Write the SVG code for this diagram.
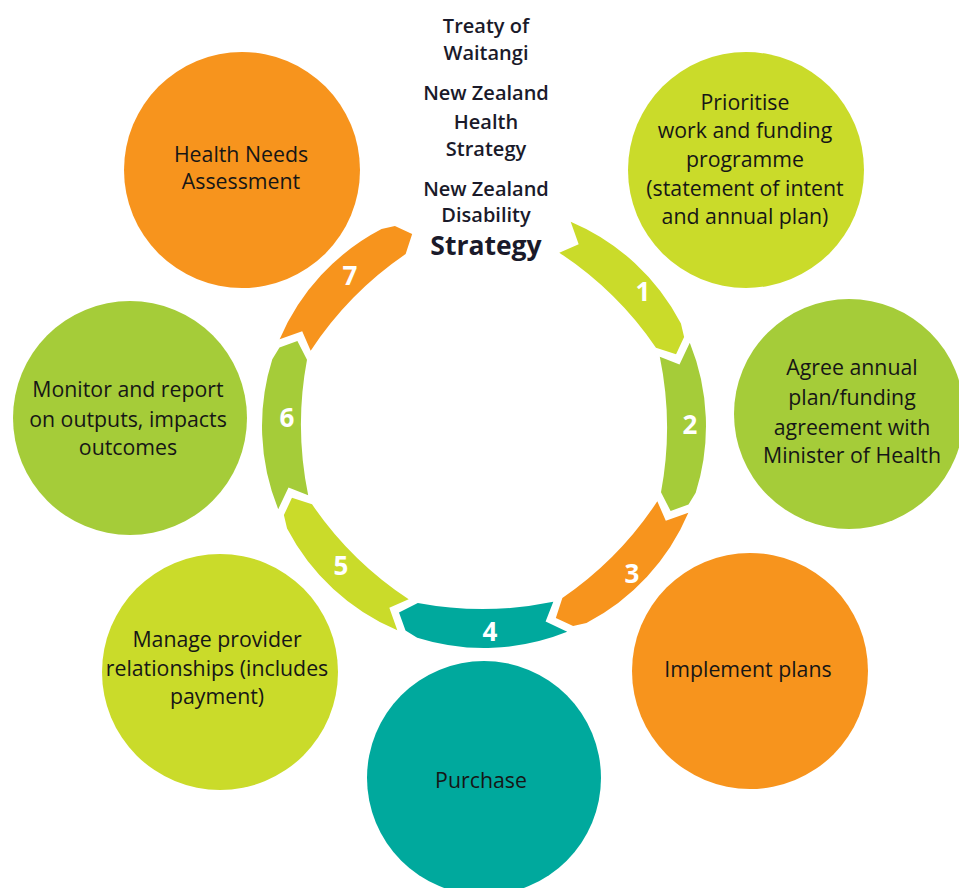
<svg xmlns="http://www.w3.org/2000/svg" xmlns:xlink="http://www.w3.org/1999/xlink" width="959" height="888" viewBox="0 0 959 888">
<style>
.txt{font-family:"Open Sans","Noto Sans","DejaVu Sans",sans-serif;font-size:21.3px;fill:#161616;text-anchor:middle}
.top{font-family:"Open Sans","Noto Sans","DejaVu Sans",sans-serif;font-size:20px;font-weight:600;fill:#1a1a2a;text-anchor:middle}
.big{font-size:26.5px;font-weight:700}
.num{font-family:"Open Sans","Noto Sans","DejaVu Sans",sans-serif;font-size:26px;font-weight:700;fill:#ffffff;text-anchor:middle}
.orange{fill:#f7941d}.lime{fill:#cadb2a}.green{fill:#a5cc39}.teal{fill:#00a99d}
</style>
<defs>
<path id="seg" d="M205.8,-83.2 A222,222 0 0 1 211.7,66.8 L204.5,78.5 L186.6,85.0 L177.0,66.2 A350,350 0 0 0 175.8,-69.3 L195.5,-61.6 Z"/>
</defs>
<rect width="959" height="888" fill="#ffffff"/>
<g id="ring" transform="translate(484,426)">
<use xlink:href="#seg" href="#seg" class="lime" transform="rotate(-45)"/>
<use xlink:href="#seg" href="#seg" class="green" transform="rotate(0)"/>
<use xlink:href="#seg" href="#seg" class="orange" transform="rotate(45)"/>
<use xlink:href="#seg" href="#seg" class="teal" transform="rotate(90)"/>
<use xlink:href="#seg" href="#seg" class="lime" transform="rotate(135)"/>
<use xlink:href="#seg" href="#seg" class="green" transform="rotate(180)"/>
<use xlink:href="#seg" href="#seg" class="orange" transform="rotate(225)"/>
</g>
<g id="numbers">
<text class="num" x="643" y="301">1</text>
<text class="num" x="690" y="434">2</text>
<text class="num" x="632" y="583">3</text>
<text class="num" x="490" y="641">4</text>
<text class="num" x="341" y="575">5</text>
<text class="num" x="287" y="427">6</text>
<text class="num" x="350" y="285">7</text>
</g>
<g id="strategy-text">
<text class="top" x="486" y="33">Treaty of</text>
<text class="top" x="486" y="60">Waitangi</text>
<text class="top" x="486" y="100">New Zealand</text>
<text class="top" x="486" y="129">Health</text>
<text class="top" x="486" y="156">Strategy</text>
<text class="top" x="486" y="196">New Zealand</text>
<text class="top" x="486" y="222">Disability</text>
<text class="top big" x="486" y="255">Strategy</text>
</g>
<g id="node-needs">
<circle class="orange" cx="242" cy="170" r="118"/>
<text class="txt" x="241" y="162">Health Needs</text>
<text class="txt" x="241" y="189">Assessment</text>
</g>
<g id="node-prioritise">
<circle class="lime" cx="746" cy="170" r="118"/>
<text class="txt" x="745" y="110">Prioritise</text>
<text class="txt" x="745" y="138">work and funding</text>
<text class="txt" x="745" y="167">programme</text>
<text class="txt" x="745" y="196">(statement of intent</text>
<text class="txt" x="745" y="224">and annual plan)</text>
</g>
<g id="node-agree">
<circle class="green" cx="849" cy="414" r="115"/>
<text class="txt" x="852" y="375">Agree annual</text>
<text class="txt" x="852" y="405">plan/funding</text>
<text class="txt" x="852" y="435">agreement with</text>
<text class="txt" x="852" y="463">Minister of Health</text>
</g>
<g id="node-implement">
<circle class="orange" cx="750" cy="671" r="118"/>
<text class="txt" x="748" y="677">Implement plans</text>
</g>
<g id="node-purchase">
<circle class="teal" cx="484" cy="778" r="117"/>
<text class="txt" x="481" y="788">Purchase</text>
</g>
<g id="node-manage">
<circle class="lime" cx="220" cy="672" r="118"/>
<text class="txt" x="217" y="647">Manage provider</text>
<text class="txt" x="217" y="676">relationships (includes</text>
<text class="txt" x="217" y="704">payment)</text>
</g>
<g id="node-monitor">
<circle class="green" cx="130" cy="418" r="117"/>
<text class="txt" x="128" y="397">Monitor and report</text>
<text class="txt" x="128" y="427">on outputs, impacts</text>
<text class="txt" x="128" y="455">outcomes</text>
</g>
</svg>
